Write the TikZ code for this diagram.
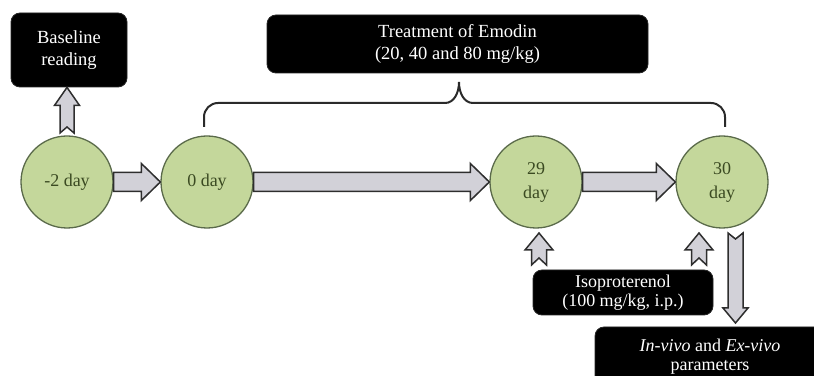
\documentclass[tikz,border=0pt]{standalone}
\usepackage{fontspec}
\setmainfont{Liberation Serif}
\usetikzlibrary{calc}
\definecolor{cfill}{HTML}{C4D79B}
\definecolor{cline}{HTML}{5A6A4A}
\definecolor{ctext}{HTML}{3B4A22}
\definecolor{afill}{HTML}{D2D1D8}
\definecolor{adraw}{HTML}{2E2E2E}
\definecolor{bline}{HTML}{2A2A2A}
% tail, tip, shaft half width, head half width, head length, notch depth
\newcommand{\blockarrow}[6]{%
  \draw[barrow]
    ($(#1)!#3!90:(#2)$) --
    ($($(#2)!#5!(#1)$)!#3!-90:(#1)$) --
    ($($(#2)!#5!(#1)$)!#4!-90:(#1)$) --
    (#2) --
    ($($(#2)!#5!(#1)$)!#4!90:(#1)$) --
    ($($(#2)!#5!(#1)$)!#3!90:(#1)$) --
    ($(#1)!#3!-90:(#2)$) --
    ($(#1)!#6!(#2)$) -- cycle;}
\begin{document}
\begin{tikzpicture}[x=1pt,y=1pt,
  day/.style={circle, draw=cline, line width=1.3pt, fill=cfill,
    minimum size=92pt, inner sep=0pt, text=ctext,
    font=\fontsize{18}{24}\selectfont, align=center},
  blackbox/.style={rounded corners=9pt, fill=black, draw=black!85,
    line width=0.8pt, text=white, font=\fontsize{18.5}{22}\selectfont,
    align=center, inner sep=0pt},
  barrow/.style={draw=adraw, fill=afill, line width=1.5pt, line join=miter},
  bracestyle/.style={draw=bline, line width=2pt}]
\useasboundingbox (0,0) rectangle (814,375);
\clip (0,0) rectangle (814,375);

% day circles
\node[day] (m2)  at (67,193)  {-2 day};
\node[day] (d0)  at (207,193) {0 day};
\node[day] (d29) at (536,193) {29\\day};
\node[day] (d30) at (722,193) {30\\day};

% black boxes
\node[blackbox, minimum width=116pt, minimum height=74pt] (base) at (69,325)
  {Baseline\\reading};
\node[blackbox, minimum width=381pt, minimum height=58pt] (treat) at (457.5,331)
  {Treatment of Emodin\\(20, 40 and 80 mg/kg)};
\node[blackbox, minimum width=180pt, minimum height=45pt, font=\fontsize{18}{19}\selectfont] (iso) at (623,82.5)
  {Isoproterenol\\(100 mg/kg, i.p.)};
\node[blackbox, minimum width=230pt, minimum height=60pt, font=\fontsize{18}{19}\selectfont] (vivo) at (710,18)
  {\textit{In-vivo} and \textit{Ex-vivo}\\parameters};

% horizontal block arrows
\blockarrow{m2.east}{d0.west}{9.5pt}{18.5pt}{19pt}{0pt}
\blockarrow{d0.east}{d29.west}{9.5pt}{18.5pt}{19pt}{0pt}
\blockarrow{d29.east}{d30.west}{9.5pt}{18.5pt}{19pt}{0pt}

% vertical notched arrows
\coordinate (bt) at (67,242);
\coordinate (bh) at (bt |- base.south);
\blockarrow{bt}{bh}{7pt}{12.5pt}{18pt}{6pt}

\coordinate (i1a) at (539,110);
\coordinate (i1b) at (539,142);
\blockarrow{i1a}{i1b}{7.5pt}{14pt}{17pt}{7pt}

\coordinate (i2a) at (699,110);
\coordinate (i2b) at (699,142);
\blockarrow{i2a}{i2b}{7.5pt}{14pt}{17pt}{7pt}

\coordinate (oa) at (735.5,142);
\coordinate (ob) at (735.5,52);
\blockarrow{oa}{ob}{7.5pt}{12.5pt}{15pt}{6pt}

% brace
\draw[bracestyle] (204,248) -- (204,258) arc[start angle=180, end angle=90, radius=14]
  -- (445,272) .. controls (454,272) and (459,282) .. (459,293)
  .. controls (459,282) and (464,272) .. (473,272)
  -- (711,272) arc[start angle=90, end angle=0, radius=14] -- (725,248);
\end{tikzpicture}
\end{document}
